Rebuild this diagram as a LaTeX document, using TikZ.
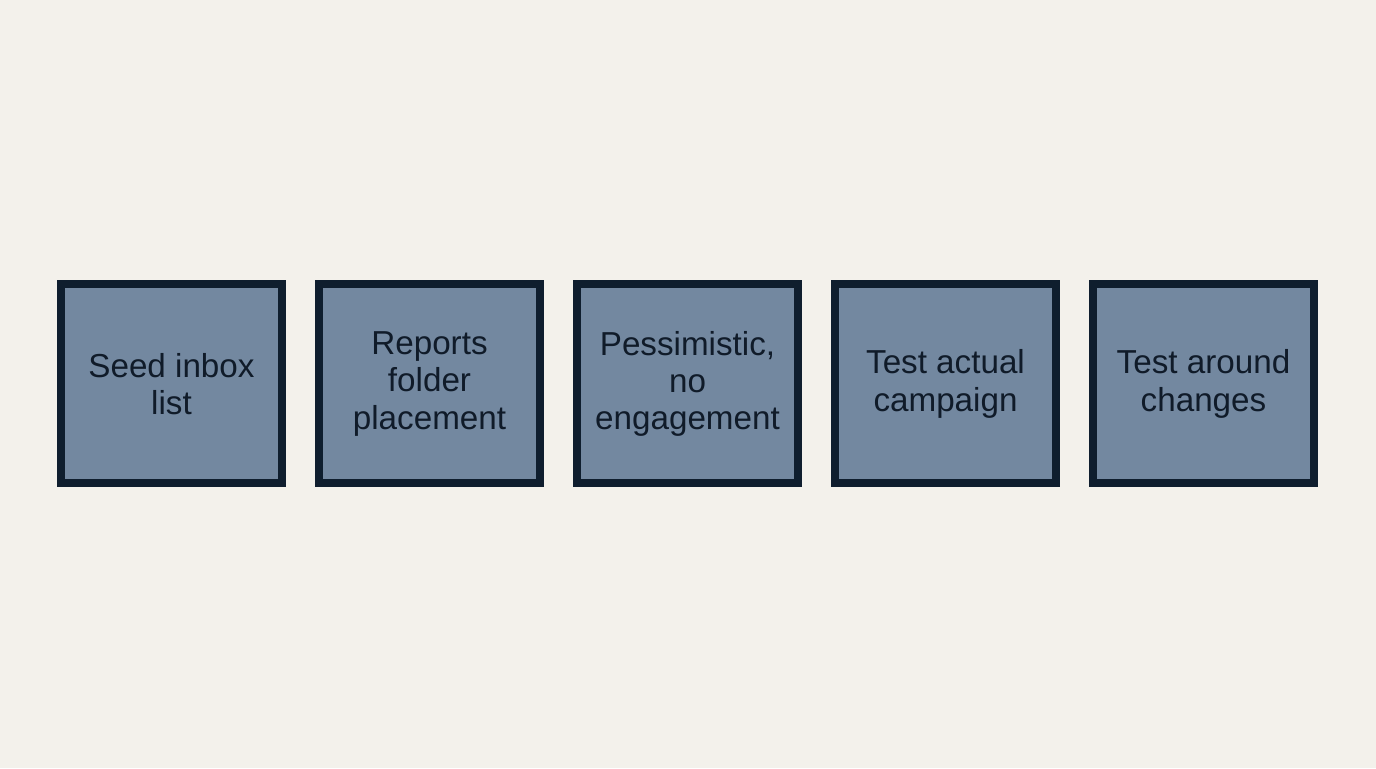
\documentclass[tikz,border=0pt]{standalone}
\usepackage{fontspec}
\setmainfont{Liberation Sans}
\definecolor{Canvas}{HTML}{F3F1EB}
\definecolor{CardFill}{HTML}{7388A0}
\definecolor{CardEdge}{HTML}{0F1E2E}
\definecolor{TextInk}{HTML}{101B29}

\begin{document}
\begin{tikzpicture}[x=1cm,y=1cm,every node/.style={text=TextInk},card/.style={rectangle,draw=CardEdge,fill=CardFill,line width=0.16cm,minimum width=4.42cm,minimum height=3.98cm,inner sep=0pt,align=center,font=\fontsize{18.9}{21.2}\selectfont}]
\fill[Canvas] (0,0) rectangle (27.52,15.36);
\foreach \i/\label in {1/{Seed inbox\\list},2/{Reports\\folder\\placement},3/{Pessimistic,\\no\\engagement},4/{Test actual\\campaign},5/{Test around\\changes}}{
  \node[card] (b\i) at ({3.43+5.16*(\i-1)},7.68){\label};
}
\end{tikzpicture}
\end{document}
